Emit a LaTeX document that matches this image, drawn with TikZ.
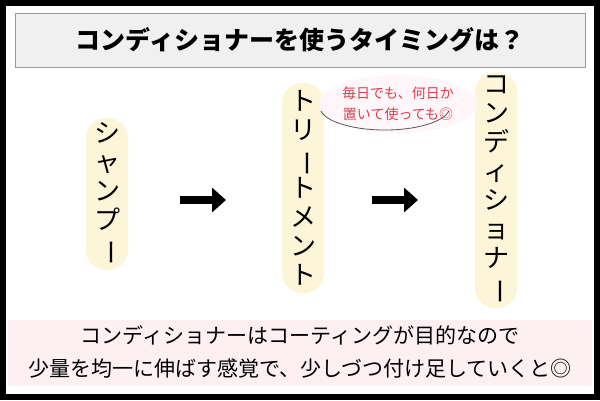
\documentclass[tikz,border=0pt]{standalone}
\usepackage{fontspec}
\setmainfont{Noto Sans CJK JP}
\usepackage{graphicx}
\usetikzlibrary{arrows.meta,shapes.geometric}
\definecolor{cream}{HTML}{FDF5D8}
\definecolor{pinkbg}{HTML}{FDF0F3}
\definecolor{bubred}{HTML}{D9404F}
\newcommand{\vbar}{\rotatebox[origin=c]{-90}{ー}}
\tikzset{
  pill/.style={fill=cream, rounded corners=20pt, minimum width=42pt, align=center, font=\fontsize{26}{29}\selectfont, inner sep=0pt},
  flow/.style={line width=8pt, -{Triangle[length=14pt,width=24pt]}},
}
\begin{document}
\begin{tikzpicture}[x=1pt,y=-1pt]
\useasboundingbox (0,0) rectangle (600,400);
\fill[white] (0,0) rectangle (600,400);
\draw[line width=6pt] (3,3) rectangle (597,397);
\node[draw=gray!80, fill=gray!12, line width=1pt, minimum width=570pt, minimum height=54pt, font=\fontsize{25}{28}\selectfont\bfseries] (title) at (300,40) {コンディショナーを使うタイミングは？};
\node[pill, minimum height=152pt] (s) at (107,194) {シ\\ャ\\ン\\プ\\\vbar};
\node[pill, minimum height=210pt] (t) at (303,188) {ト\\リ\\\vbar\\ト\\メ\\ン\\ト};
\node[pill, minimum height=236pt] (c) at (496,190) {コ\\ン\\デ\\ィ\\シ\\ョ\\ナ\\\vbar};
\draw[flow] (180,200) -- (226,200);
\draw[flow] (372,200) -- (418,200);
\node[ellipse, fill=pinkbg!60, text=bubred, align=center, font=\fontsize{14}{21}\selectfont, inner sep=0pt, minimum width=134pt, minimum height=58pt] (b) at (398,104) {毎日でも、何日か\\置いて使っても◎};
\draw[gray!70!black, line width=0.8pt] (b.west) ++(2,7) arc[start angle=190, end angle=350, x radius=65pt, y radius=23pt];
\fill[pinkbg] (8,320) rectangle (592,386);
\node[font=\fontsize{21}{33}\selectfont, align=center] (note) at (300,352) {コンディショナーはコーティングが目的なので\\少量を均一に伸ばす感覚で、少しづつ付け足していくと◎};
\end{tikzpicture}
\end{document}
